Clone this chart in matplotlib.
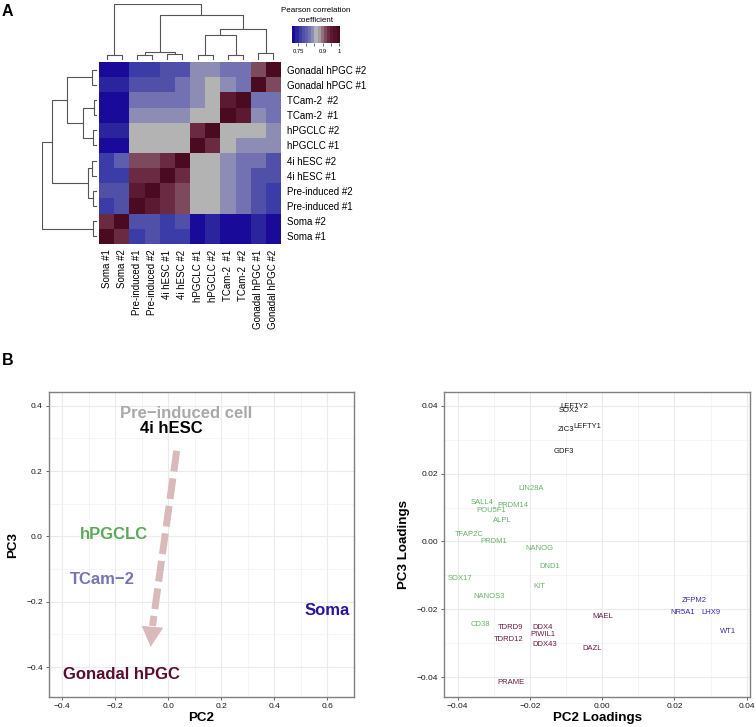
import numpy as np
import matplotlib
matplotlib.use('Agg')
import matplotlib.pyplot as plt
from matplotlib.colors import ListedColormap, BoundaryNorm
from matplotlib.ticker import MultipleLocator, FuncFormatter, NullLocator

plt.rcParams['font.family'] = ['Liberation Sans', 'DejaVu Sans']

# ---------------- data: panel A ----------------
samples = ['Soma #1', 'Soma #2', 'Pre-induced #1', 'Pre-induced #2',
           '4i hESC #1', '4i hESC #2', 'hPGCLC #1', 'hPGCLC #2',
           'TCam-2  #1', 'TCam-2  #2', 'Gonadal hPGC #1', 'Gonadal hPGC #2']

# rows listed in the same order as samples (bottom row first)
corr = [
    [1.000, 0.937, 0.763, 0.783, 0.763, 0.763, 0.725, 0.744, 0.725, 0.725, 0.744, 0.725],
    [0.937, 1.000, 0.783, 0.783, 0.763, 0.783, 0.725, 0.744, 0.725, 0.725, 0.744, 0.725],
    [0.763, 0.783, 1.000, 0.956, 0.937, 0.918, 0.860, 0.860, 0.840, 0.821, 0.783, 0.763],
    [0.783, 0.783, 0.956, 1.000, 0.937, 0.918, 0.860, 0.860, 0.840, 0.821, 0.783, 0.763],
    [0.763, 0.763, 0.937, 0.937, 1.000, 0.937, 0.860, 0.860, 0.840, 0.821, 0.783, 0.783],
    [0.763, 0.802, 0.918, 0.918, 0.937, 1.000, 0.860, 0.860, 0.840, 0.821, 0.821, 0.783],
    [0.725, 0.725, 0.860, 0.860, 0.860, 0.860, 1.000, 0.937, 0.860, 0.840, 0.840, 0.840],
    [0.744, 0.744, 0.860, 0.860, 0.860, 0.860, 0.937, 1.000, 0.860, 0.860, 0.860, 0.840],
    [0.725, 0.725, 0.840, 0.840, 0.840, 0.840, 0.860, 0.860, 1.000, 0.956, 0.840, 0.821],
    [0.725, 0.725, 0.821, 0.821, 0.821, 0.821, 0.840, 0.860, 0.956, 1.000, 0.821, 0.821],
    [0.744, 0.744, 0.783, 0.783, 0.783, 0.821, 0.840, 0.860, 0.840, 0.821, 1.000, 0.918],
    [0.725, 0.725, 0.763, 0.763, 0.783, 0.783, 0.840, 0.840, 0.821, 0.821, 0.918, 1.000],
]

# dendrogram merges: (child_a, child_b, height); leaves 0..11, new clusters 12..
col_merges = [(0, 1, 0.14), (2, 3, 0.15), (4, 5, 0.17), (13, 14, 0.25),
              (6, 7, 0.15), (8, 9, 0.15), (10, 11, 0.20), (16, 17, 0.75),
              (19, 18, 0.93), (15, 20, 1.35), (12, 21, 1.68)]
row_merges = [(0, 1, 0.10), (2, 3, 0.10), (4, 5, 0.15), (13, 14, 0.25),
              (6, 7, 0.10), (8, 9, 0.08), (10, 11, 0.15), (16, 17, 0.40),
              (19, 18, 0.90), (15, 20, 1.35), (12, 21, 1.65)]

# ---------------- data: panel B left ----------------
pca_labels = ['Pre\u2212induced cell', '4i hESC', 'hPGCLC', 'TCam\u22122', 'Soma', 'Gonadal hPGC']
pca_pc2 = [0.066, 0.011, -0.203, -0.249, 0.600, -0.177]
pca_pc3 = [0.377, 0.330, 0.006, -0.132, -0.226, -0.424]
pca_colors = ['#a9a9a9', '#000000', '#5aaa5a', '#7474b4', '#2a14a0', '#5c0a30']
arrow_start = (0.032, 0.262)
arrow_base = (-0.059, -0.274)
arrow_tip = (-0.066, -0.338)

# ---------------- data: panel B right ----------------
genes = ['LEFTY2', 'SOX2', 'LEFTY1', 'ZIC3', 'GDF3',
         'LIN28A', 'SALL4', 'PRDM14', 'POU5F1', 'ALPL', 'TFAP2C', 'PRDM1', 'NANOG',
         'DND1', 'SOX17', 'KIT', 'NANOS3', 'CD38',
         'ZFPM2', 'NR5A1', 'LHX9', 'WT1',
         'MAEL', 'TDRD9', 'DDX4', 'PIWIL1', 'TDRD12', 'DDX43', 'DAZL', 'PRAME']
load_pc2 = [-0.0078, -0.0092, -0.0040, -0.0101, -0.0106,
            -0.0197, -0.0331, -0.0246, -0.0308, -0.0277, -0.0368, -0.0299, -0.0174,
            -0.0144, -0.0394, -0.0173, -0.0314, -0.0336,
            0.0256, 0.0223, 0.0301, 0.0348,
            0.0002, -0.0255, -0.0165, -0.0164, -0.0260, -0.0159, -0.0028, -0.0253]
load_pc3 = [0.0399, 0.0385, 0.0340, 0.0329, 0.0264,
            0.0156, 0.0116, 0.0106, 0.0090, 0.0061, 0.0020, 0.0001, -0.0020,
            -0.0074, -0.0110, -0.0132, -0.0162, -0.0244,
            -0.0173, -0.0210, -0.0211, -0.0267,
            -0.0220, -0.0253, -0.0253, -0.0274, -0.0288, -0.0303, -0.0315, -0.0415]
gene_group = (['pluri'] * 5 + ['pgc'] * 13 + ['soma'] * 4 + ['gonadal'] * 8)
group_colors = {'pluri': '#1a1a1a', 'pgc': '#66b366', 'soma': '#3c2aae', 'gonadal': '#6e1a40'}

# ---------------- figure ----------------
W, H = 756, 727
fig = plt.figure(figsize=(W / 100, H / 100), dpi=100)


def px_axes(x0, y0, x1, y1):
    return fig.add_axes([x0 / W, 1 - y1 / H, (x1 - x0) / W, (y1 - y0) / H])


# heatmap
hm_colors = ['#1a0a9a', '#2a249f', '#3c3ca8', '#5050a8', '#5e5eb0', '#7272b2', '#8c8cb4',
             '#b3b3b3', '#a89aa0', '#92707f', '#7c4a5c', '#6a2a42', '#5c1a32', '#521228', '#4a0a20']
cmap = ListedColormap(hm_colors)
bounds = np.linspace(0.715, 1.005, len(hm_colors) + 1)
norm = BoundaryNorm(bounds, cmap.N)

n = len(samples)
ax_hm = px_axes(99, 62, 281, 244)
mesh = ax_hm.pcolormesh(np.arange(n + 1), np.arange(n + 1), np.array(corr), cmap=cmap, norm=norm)
ax_hm.set_xlim(0, n)
ax_hm.set_ylim(0, n)
ax_hm.set_xticks(np.arange(n) + 0.5)
ax_hm.set_xticklabels(samples, rotation=90, fontsize=7)
ax_hm.set_yticks(np.arange(n) + 0.5)
ax_hm.set_yticklabels(samples, fontsize=7)
ax_hm.yaxis.tick_right()
ax_hm.tick_params(length=0, pad=4)
for s in ax_hm.spines.values():
    s.set_visible(False)


def draw_dendro(ax, merges, orient):
    pos = {i: i + 0.5 for i in range(n)}
    hgt = {i: 0.0 for i in range(n)}
    for k, (a, b, h) in enumerate(merges):
        xa, xb = pos[a], pos[b]
        ha, hb = hgt[a], hgt[b]
        if orient == 'top':
            ax.plot([xa, xa, xb, xb], [ha, h, h, hb], color='#555555', lw=0.8, solid_capstyle='butt')
        else:
            ax.plot([ha, h, h, hb], [xa, xa, xb, xb], color='#555555', lw=0.8, solid_capstyle='butt')
        pos[n + k] = (xa + xb) / 2
        hgt[n + k] = h
    ax.axis('off')


ax_dt = px_axes(99, 4, 281, 60)
draw_dendro(ax_dt, col_merges, 'top')
ax_dt.set_xlim(0, n)
ax_dt.set_ylim(0, col_merges[-1][2])

ax_dl = px_axes(41.7, 62, 96.7, 244)
draw_dendro(ax_dl, row_merges, 'left')
ax_dl.set_ylim(0, n)
ax_dl.set_xlim(row_merges[-1][2], 0)

# color key
ax_cb = px_axes(292.3, 25.7, 339.7, 42.7)
cb = fig.colorbar(mesh, cax=ax_cb, orientation='horizontal')
cb.outline.set_visible(False)
cb.set_ticks([0.75, 0.8, 0.85, 0.9, 0.95, 1.0])
cb.set_ticklabels(['0.75', '', '', '0.9', '', '1'])
ax_cb.xaxis.set_minor_locator(NullLocator())
ax_cb.tick_params(which='major', labelsize=4.2, length=2.5, width=0.5, pad=2, color='#333333')
ax_cb.tick_params(which='minor', length=0)
fig.text(316 / W, 1 - 11 / H, 'Pearson correlation', fontsize=5.8, ha='center', va='center')
fig.text(316 / W, 1 - 20 / H, 'coefficient', fontsize=5.8, ha='center', va='center')

fig.text(2 / W, 1 - 4 / H, 'A', fontsize=11.5, fontweight='bold', ha='left', va='top')
fig.text(2 / W, 1 - 353 / H, 'B', fontsize=11.5, fontweight='bold', ha='left', va='top')


def style_gg(ax):
    ax.grid(True, which='major', color='#ebebeb', lw=0.8)
    ax.grid(True, which='minor', color='#f2f2f2', lw=0.5)
    ax.set_axisbelow(True)
    for s in ax.spines.values():
        s.set_color('#808080')
        s.set_linewidth(1.0)
    ax.tick_params(which='major', length=2.5, width=0.6, color='#4d4d4d', labelsize=6,
                   labelcolor='#1a1a1a', pad=2)
    ax.tick_params(which='minor', length=0)


minus_fmt1 = FuncFormatter(lambda v, _: ('%.1f' % v).replace('-0.0', '0.0').replace('-', '\u2212'))
minus_fmt2 = FuncFormatter(lambda v, _: ('%.2f' % v).replace('-0.00', '0.00').replace('-', '\u2212'))

# PCA panel
ax_p = px_axes(49, 392, 354, 697)
style_gg(ax_p)
ax_p.set_xlim(-0.449, 0.700)
ax_p.set_ylim(-0.4915, 0.442)
ax_p.xaxis.set_major_locator(MultipleLocator(0.2))
ax_p.xaxis.set_minor_locator(MultipleLocator(0.1))
ax_p.yaxis.set_major_locator(MultipleLocator(0.2))
ax_p.yaxis.set_minor_locator(MultipleLocator(0.1))
ax_p.xaxis.set_major_formatter(minus_fmt1)
ax_p.yaxis.set_major_formatter(minus_fmt1)
ax_p.set_xlabel('PC2', fontsize=9.6, fontweight='bold', labelpad=1.5)
ax_p.set_ylabel('PC3', fontsize=9.6, fontweight='bold', labelpad=5)

arrow_col = '#d9b9b9'
ax_p.plot([arrow_start[0], arrow_base[0]], [arrow_start[1], arrow_base[1]], color=arrow_col,
          lw=5, linestyle=(0, (3, 1)), solid_capstyle='butt', dash_capstyle='butt')
ax_p.annotate('', xy=arrow_tip, xytext=arrow_base,
              arrowprops=dict(arrowstyle='-|>,head_length=1.45,head_width=0.78',
                              color=arrow_col, lw=0, shrinkA=0, shrinkB=0, mutation_scale=10))
for lab, x, y, c in zip(pca_labels, pca_pc2, pca_pc3, pca_colors):
    ax_p.text(x, y, lab, color=c, fontsize=12, fontweight='bold', ha='center', va='center')

# loadings panel
ax_l = px_axes(444.3, 392, 750, 697)
style_gg(ax_l)
ax_l.set_xlim(-0.0437, 0.0409)
ax_l.set_ylim(-0.0459, 0.0441)
ax_l.xaxis.set_major_locator(MultipleLocator(0.02))
ax_l.xaxis.set_minor_locator(MultipleLocator(0.01))
ax_l.yaxis.set_major_locator(MultipleLocator(0.02))
ax_l.yaxis.set_minor_locator(MultipleLocator(0.01))
ax_l.xaxis.set_major_formatter(minus_fmt2)
ax_l.yaxis.set_major_formatter(minus_fmt2)
ax_l.set_xlabel('PC2 Loadings', fontsize=9.6, fontweight='bold', labelpad=1.5)
ax_l.set_ylabel('PC3 Loadings', fontsize=9.6, fontweight='bold', labelpad=5)
for g, x, y, grp in zip(genes, load_pc2, load_pc3, gene_group):
    ax_l.text(x, y, g, color=group_colors[grp], fontsize=5.5, ha='center', va='center')

fig.savefig('out.png', dpi=100)
